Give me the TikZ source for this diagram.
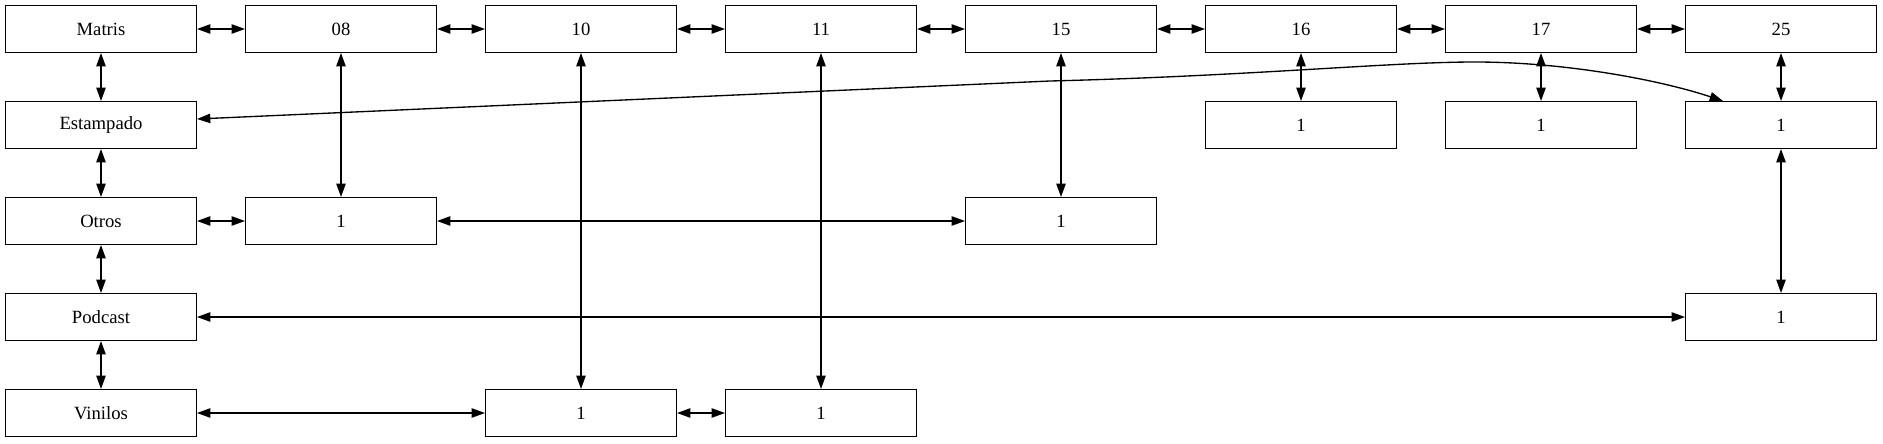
\documentclass[tikz,border=0pt]{standalone}
\usepackage{fontspec}
\setmainfont{Liberation Serif}
\usetikzlibrary{arrows.meta}

\tikzset{
    box/.style={draw, line width=1pt, minimum width=143pt, minimum height=35pt,
        inner sep=0pt, font=\fontsize{14}{16}\selectfont},
    link/.style={{Triangle[length=10pt,width=7pt]}-{Triangle[length=10pt,width=7pt]}, line width=1pt}
}

\begin{document}
\begin{tikzpicture}[x=0.75pt, y=-0.75pt]
        \useasboundingbox (0,0) rectangle (1883,443);

        \node[box] (Matris) at (101,29) {Matris};
        \node[box] (Estampado) at (101,125) {Estampado};
        \node[box] (Otros) at (101,221) {Otros};
        \node[box] (Podcast) at (101,317) {Podcast};
        \node[box] (Vinilos) at (101,413) {Vinilos};

        \node[box] (T08) at (341,29) {08};
        \node[box] (T10) at (581,29) {10};
        \node[box] (T11) at (821,29) {11};
        \node[box] (T15) at (1061,29) {15};
        \node[box] (T16) at (1301,29) {16};
        \node[box] (T17) at (1541,29) {17};
        \node[box] (T25) at (1781,29) {25};

        \node[box] (E16) at (1301,125) {1};
        \node[box] (E17) at (1541,125) {1};
        \node[box] (E25) at (1781,125) {1};
        \node[box] (O08) at (341,221) {1};
        \node[box] (O15) at (1061,221) {1};
        \node[box] (P25) at (1781,317) {1};
        \node[box] (V10) at (581,413) {1};
        \node[box] (V11) at (821,413) {1};

        \draw[link] (Matris) -- (T08);
        \draw[link] (T08) -- (T10);
        \draw[link] (T10) -- (T11);
        \draw[link] (T11) -- (T15);
        \draw[link] (T15) -- (T16);
        \draw[link] (T16) -- (T17);
        \draw[link] (T17) -- (T25);

        \draw[link] (Matris) -- (Estampado);
        \draw[link] (Estampado) -- (Otros);
        \draw[link] (Otros) -- (Podcast);
        \draw[link] (Podcast) -- (Vinilos);

        \draw[link] (T08) -- (O08);
        \draw[link] (T10) -- (V10);
        \draw[link] (T11) -- (V11);
        \draw[link] (T15) -- (O15);
        \draw[link] (T16) -- (E16);
        \draw[link] (T17) -- (E17);
        \draw[link] (T25) -- (E25);
        \draw[link] (E25) -- (P25);

        \draw[link] (Otros) -- (O08);
        \draw[link] (O08) -- (O15);
        \draw[link] (Podcast) -- (P25);
        \draw[link] (Vinilos) -- (V10);
        \draw[link] (V10) -- (V11);

        % long curved link
        \draw[link] ([yshift=4.5pt]Estampado.east) -- (1050,81)
            .. controls (1250,76) and (1390,62) .. (1475,62)
            .. controls (1565,62) and (1660,80) .. ([xshift=28.5pt]E25.north west);
    \end{tikzpicture}
\end{document}
